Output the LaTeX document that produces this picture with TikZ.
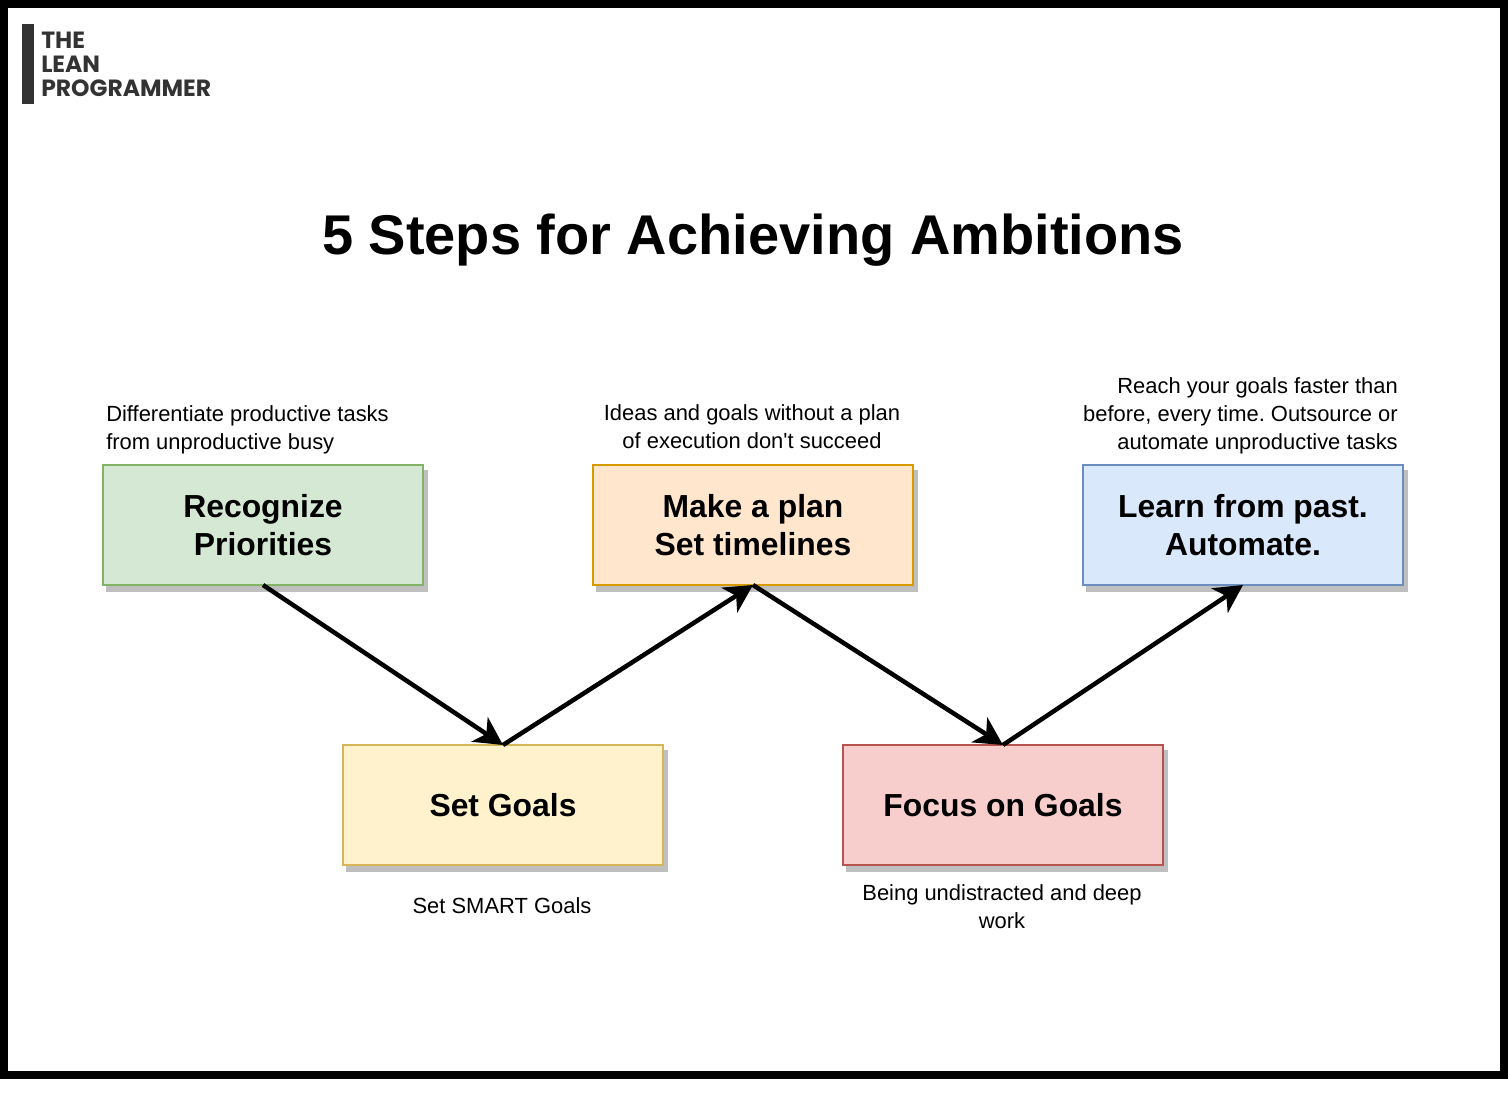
\documentclass[tikz,border=0pt]{standalone}
\usepackage{fontspec}
\setmainfont{Liberation Sans}
\newfontfamily\logofont{Poppins}
\newfontfamily\straightfont{Liberation Sans}
\usetikzlibrary{arrows.meta,shadows}
\frenchspacing

\definecolor{greenfill}{HTML}{D5E8D4}
\definecolor{greenline}{HTML}{82B366}
\definecolor{orangefill}{HTML}{FFE6CC}
\definecolor{orangeline}{HTML}{D79B00}
\definecolor{bluefill}{HTML}{DAE8FC}
\definecolor{blueline}{HTML}{6C8EBF}
\definecolor{yellowfill}{HTML}{FFF2CC}
\definecolor{yellowline}{HTML}{D6B656}
\definecolor{redfill}{HTML}{F8CECC}
\definecolor{redline}{HTML}{B85450}
\definecolor{logogray}{HTML}{333333}
\definecolor{shadowgray}{HTML}{BFBFBF}

\tikzset{
    stepbox/.style={draw, line width=1.5pt, minimum width=240pt, minimum height=90pt,
        outer sep=0pt, inner sep=0pt, align=center, font=\fontsize{23.9}{28.5}\selectfont\bfseries,
        drop shadow={shadow xshift=3pt, shadow yshift=-4.5pt, fill=shadowgray, draw=shadowgray, opacity=1}},
    note/.style={font=\fontsize{16.45}{21}\selectfont, inner sep=0pt},
    stepline/.style={line width=3.4pt, -{Stealth[length=21pt, width=22pt, inset=6pt]}}
}

\begin{document}
\begin{tikzpicture}[x=0.75pt, y=-0.75pt]
\useasboundingbox (0,0) rectangle (1508,1116);

% Frame
\draw[line width=6pt] (4,4) rectangle (1504,1075);

% Logo
\fill[logogray] (22,24) rectangle (34,104);
\node[anchor=west, align=left, inner sep=0pt, text=logogray, font=\logofont\fontsize{17.6}{18}\selectfont\bfseries] (logo) at (41,64) {THE\\LEAN\\PROGRAMMER};

% Title
\node[font=\fontsize{42}{50}\selectfont\bfseries, inner sep=0pt] (title) at (753,240) {5 Steps for Achieving Ambitions};

% Steps
\node[stepbox, fill=greenfill, draw=greenline] (priorities) at (263,525) {Recognize\\Priorities};
\node[stepbox, fill=yellowfill, draw=yellowline] (goals) at (503,805) {Set Goals};
\node[stepbox, fill=orangefill, draw=orangeline] (plan) at (753,525) {Make a plan\\Set timelines};
\node[stepbox, fill=redfill, draw=redline] (focus) at (1003,805) {Focus on Goals};
\node[stepbox, fill=bluefill, draw=blueline] (learn) at (1243,525) {Learn from past.\\Automate.};

% Notes
\node[note, anchor=west, align=left] (prioritiesnote) at (106,430) {Differentiate productive tasks\\from unproductive busy};
\node[note, align=center] (goalsnote) at (502,906) {Set SMART Goals};
\node[note, align=center] (plannote) at (752,427) {Ideas and goals without a plan\\of execution don{\straightfont'}t succeed};
\node[note, align=center] (focusnote) at (1002,907) {Being undistracted and deep\\work};
\node[note, anchor=east, align=right] (learnnote) at (1398,416) {Reach your goals faster than\\before, every time. Outsource or\\automate unproductive tasks};

% Arrows
\draw[stepline] (priorities.south) -- (goals.north);
\draw[stepline] (goals.north) -- (plan.south);
\draw[stepline] (plan.south) -- (focus.north);
\draw[stepline] (focus.north) -- (learn.south);
\end{tikzpicture}
\end{document}
